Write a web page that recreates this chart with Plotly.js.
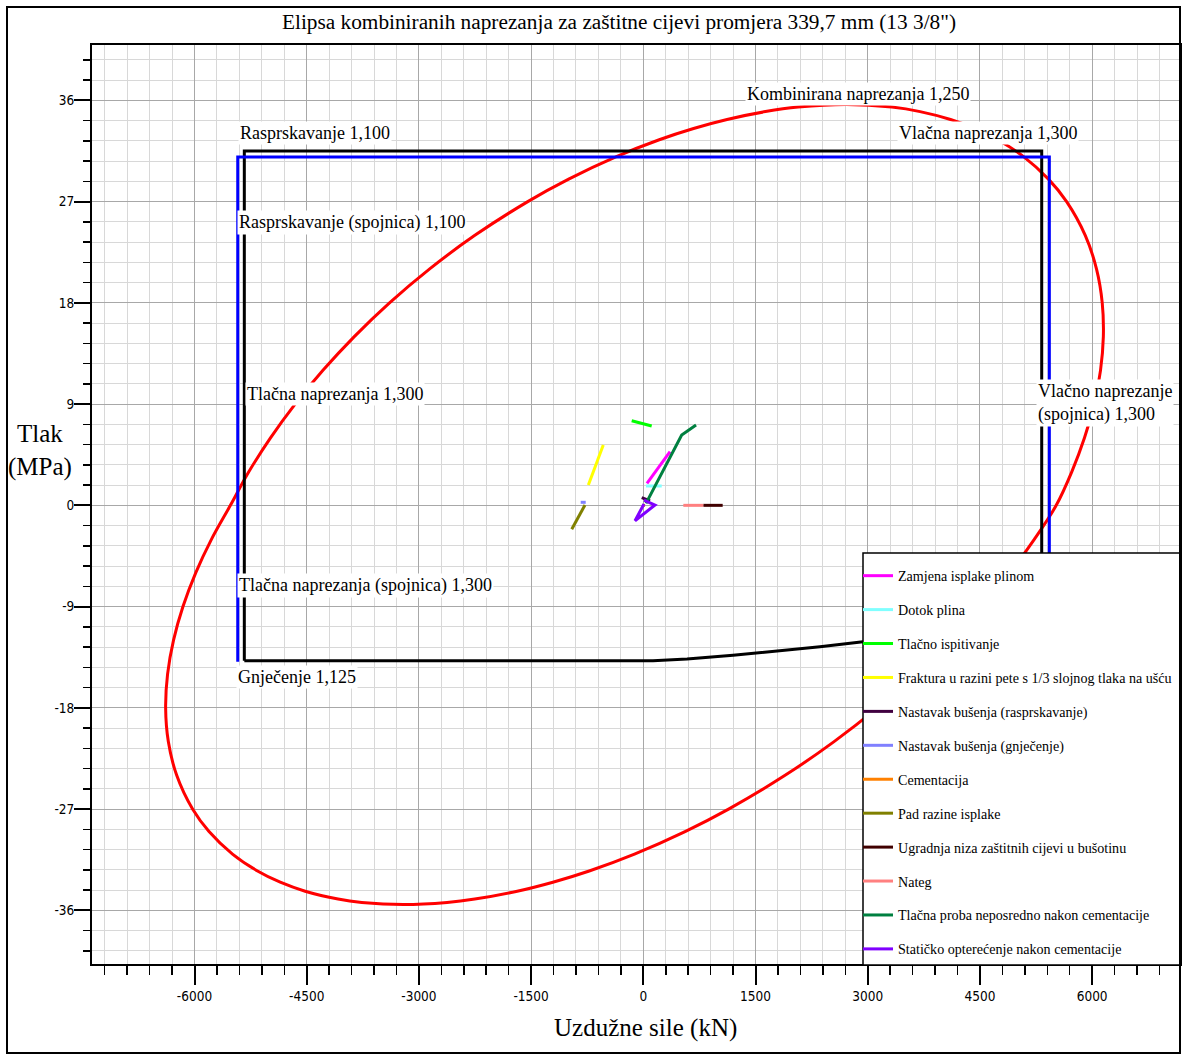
<!DOCTYPE html>
<html><head><meta charset="utf-8">
<script src="https://cdn.plot.ly/plotly-3.0.1.min.js"></script>
<style>html,body{margin:0;padding:0;background:#fff}#chart{width:1184px;height:1055px}</style>
</head><body><div id="chart"></div>
<script>
// Combined-stress (triaxial) envelope (kN, MPa)
const ellipseF = [5520,5729,5898,6027,6112,6150,6135,6059,5908,5659,5416,5083,4738,4432,4107,3700,3323,2714,
  2070,1633,1119,672,213,-360,-998,-1545,-2252,-2860,-3393,-3864,-4283,-4655,-4984,-5272,-5520,
  -5772,-5984,-6154,-6281,-6360,-6386,-6350,-6238,-6026,-5806,-5492,-5158,-4854,-4521,-4081,-3764,-3211,
  -2623,-2253,-1686,-1209,-723,-118,558,1140,1895,2550,3129,3646,4109,4525,4898,5229,5520];
const ellipseP = [0,3,6,9,12,15,18,21,24,27,29,31,32.5,33.5,34.3,35,35.4,35.63,
  35.4,35,34.3,33.5,32.5,31,29,27,24,21,18,15,12,9,6,3,0,
  -3,-6,-9,-12,-15,-18,-21,-24,-27,-29,-31,-32.5,-33.5,-34.3,-35,-35.3,-35.49,
  -35.3,-35,-34.3,-33.5,-32.5,-31,-29,-27,-24,-21,-18,-15,-12,-9,-6,-3,0];

// Pipe body limits (black): burst 1,100 / compression 1,300 / tension 1,300 / collapse 1,125
const pipeF = [-5334,-5334,5326,5326,4500,3600,2937,2362,1801,1200,584,130,-5334];
const pipeP = [-13.81,31.5,31.5,-10.0,-10.79,-11.58,-12.12,-12.57,-12.95,-13.33,-13.66,-13.81,-13.81];

// Connection limits (blue)
const connF = [-5422,-5422,5428,5428];
const connP = [-13.9,30.96,30.96,-13.9];

// Load cases
const loadNames = ['Zamjena isplake plinom','Dotok plina','Tlačno ispitivanje','Fraktura u razini pete s 1/3 slojnog tlaka na ušću','Nastavak bušenja (rasprskavanje)','Nastavak bušenja (gnječenje)','Cementacija','Pad razine isplake','Ugradnja niza zaštitnih cijevi u bušotinu','Nateg','Tlačna proba neposredno nakon cementacije','Statičko opterećenje nakon cementacije'];
const loadColors = ['#ff00ff','#80ffff','#00ff00','#ffff00','#400040','#8080ff','#ff8000','#808000','#400000','#ff8080','#008040','#8000ff'];
const loadF = [[49,357],[36,246],[-155,112],[-735,-668,-602,-535],[-21,90],[-837,-770],[0,23],[-780,-957],[802,1061],[535,802],[36,513,705],[9,156,-111,9]];
const loadP = [[1.96,4.77],[1.72,1.72],[7.52,7.05],[1.8,2.99,4.03,5.36],[0.68,0.4],[0.27,0.27],[0,0],[0.03,-2.13],[0,0],[0,0],[0.18,6.25,7.14],[0.47,0.03,-1.37,0.12]];

const xTickVals = [-6000,-4500,-3000,-1500,0,1500,3000,4500,6000];
const xTickText = ['-6000','-4500','-3000','-1500','0','1500','3000','4500','6000'];
const yTickVals = [-36,-27,-18,-9,0,9,18,27,36];
const yTickText = ['-36','-27','-18','-9','0','9','18','27','36'];

const SERIF = 'Liberation Serif, Times New Roman, serif';
const NARROW = 'Liberation Sans Narrow, Arial Narrow, DejaVu Sans Condensed, sans-serif';
const px2x = p => (p - 92) / 1088;
const py2y = p => (964 - p) / 919;

const traces = [
  {x: ellipseF, y: ellipseP, mode: 'lines', line: {color: '#ff0000', width: 3, shape: 'spline', smoothing: 1}, showlegend: false, hoverinfo: 'skip'},
  {x: pipeF, y: pipeP, mode: 'lines', line: {color: '#000000', width: 3}, showlegend: false, hoverinfo: 'skip'},
  {x: connF, y: connP, mode: 'lines', line: {color: '#0000ff', width: 3}, showlegend: false, hoverinfo: 'skip'}
];
loadNames.forEach((n, i) => {
  traces.push({x: loadF[i], y: loadP[i], name: n, mode: 'lines', legendgroup: 'g' + i,
    line: {color: loadColors[i], width: 3}});
});

function lab(text, lx, cy) {
  return {text: text, xref: 'paper', yref: 'paper', x: px2x(lx), y: py2y(cy), xanchor: 'left', yanchor: 'middle',
    showarrow: false, bgcolor: '#ffffff', borderpad: 1, align: 'left', font: {family: SERIF, size: 18, color: '#000'}};
}

const layout = {
  width: 1184, height: 1055,
  margin: {l: 92, r: 4, t: 45, b: 91},
  paper_bgcolor: '#ffffff', plot_bgcolor: '#ffffff',
  title: {text: 'Elipsa kombiniranih naprezanja za zaštitne cijevi promjera 339,7 mm (13 3/8")',
    font: {family: SERIF, size: 21.3, color: '#000'}, xref: 'container', yref: 'container',
    x: 619 / 1184, y: 1 - 22 / 1055, xanchor: 'center', yanchor: 'middle'},
  xaxis: {range: [-7370.3, 7174.7], tickmode: 'array', tickvals: xTickVals, ticktext: xTickText,
    ticks: 'outside', ticklen: 19, tickwidth: 2, tickcolor: '#000',
    showline: true, linewidth: 2, linecolor: '#000', mirror: true,
    showgrid: true, gridcolor: '#a8a8a8', gridwidth: 1, zeroline: false,
    tickfont: {family: NARROW, size: 13.5, color: '#000'},
    minor: {tickmode: 'linear', tick0: 0, dtick: 300, ticks: 'outside', ticklen: 9, tickwidth: 1.5, tickcolor: '#000',
      showgrid: true, gridcolor: '#d8d8d8', gridwidth: 1}},
  yaxis: {range: [-40.77, 40.92], tickmode: 'array', tickvals: yTickVals, ticktext: yTickText,
    ticks: 'outside', ticklen: 16, tickwidth: 2, tickcolor: '#000', ticklabelstandoff: -3,
    showline: true, linewidth: 2, linecolor: '#000', mirror: true,
    showgrid: true, gridcolor: '#a8a8a8', gridwidth: 1, zeroline: false,
    tickfont: {family: NARROW, size: 13.5, color: '#000'},
    minor: {tickmode: 'linear', tick0: 0, dtick: 1.8, ticks: 'outside', ticklen: 7, tickwidth: 1.5, tickcolor: '#000',
      showgrid: true, gridcolor: '#d8d8d8', gridwidth: 1}},
  showlegend: true,
  legend: {x: px2x(858), xanchor: 'left', y: py2y(560), yanchor: 'top', bgcolor: 'rgba(0,0,0,0)', borderwidth: 0,
    font: {family: SERIF, size: 14.1, color: '#000'}, tracegroupgap: 12.6, itemwidth: 30},
  shapes: [
    {type: 'rect', xref: 'paper', yref: 'paper', x0: px2x(863), x1: px2x(1180), y0: py2y(965), y1: py2y(553),
      fillcolor: '#ffffff', line: {color: '#000', width: 1.5}, layer: 'above'},
    {type: 'rect', xref: 'paper', yref: 'paper', x0: px2x(7), x1: px2x(1180), y0: py2y(1053), y1: py2y(7),
      fillcolor: 'rgba(0,0,0,0)', line: {color: '#000', width: 2}, layer: 'above'}
  ],
  annotations: [
    lab('Kombinirana naprezanja 1,250', 745, 94),
    lab('Rasprskavanje 1,100', 238, 133),
    lab('Vlačna naprezanja 1,300', 897, 133),
    lab('Rasprskavanje (spojnica) 1,100', 237, 222),
    lab('Tlačna naprezanja 1,300', 245, 394),
    lab('Vlačno naprezanje<br>(spojnica) 1,300', 1036, 402.5),
    lab('Tlačna naprezanja (spojnica) 1,300', 237, 585),
    lab('Gnječenje 1,125', 236, 677),
    {text: 'Tlak<br>(MPa)', xref: 'paper', yref: 'paper', x: px2x(40), y: py2y(450), xanchor: 'center', yanchor: 'middle',
      showarrow: false, align: 'center', font: {family: SERIF, size: 25, color: '#000'}},
    {text: 'Uzdužne sile (kN)', xref: 'paper', yref: 'paper', x: px2x(645), y: py2y(1028), xanchor: 'center', yanchor: 'middle',
      showarrow: false, font: {family: SERIF, size: 25, color: '#000'}}
  ]
};

Plotly.newPlot('chart', traces, layout, {displayModeBar: false, staticPlot: true});
</script>
</body></html>
